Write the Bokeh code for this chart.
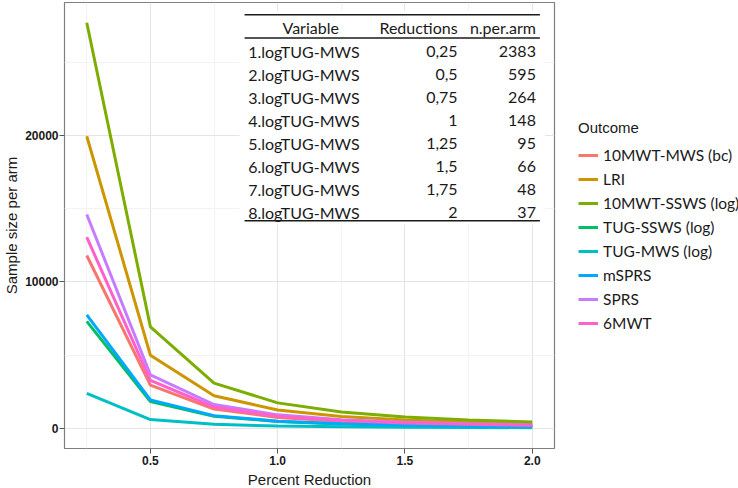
from bokeh.plotting import figure
from bokeh.models import (Range1d, FixedTicker, PrintfTickFormatter, Legend,
                          LegendItem, ColumnDataSource)
from bokeh.core.properties import value
from bokeh.embed import file_html
from bokeh.resources import INLINE

# ---------------- data ----------------
reductions = [0.25, 0.5, 0.75, 1.0, 1.25, 1.5, 1.75, 2.0]

outcomes = ["10MWT-MWS (bc)", "LRI", "10MWT-SSWS (log)", "TUG-SSWS (log)",
            "TUG-MWS (log)", "mSPRS", "SPRS", "6MWT"]
colors = ["#F8766D", "#CD9600", "#7CAE00", "#00BE67",
          "#00BFC4", "#00A9FF", "#C77CFF", "#FF61CC"]

mwt_mws_bc   = [11800, 2950, 1311, 738, 472, 328, 241, 184]
lri          = [19950, 4988, 2217, 1247, 798, 554, 407, 312]
mwt_ssws_log = [27700, 6925, 3078, 1731, 1108, 769, 565, 433]
tug_ssws_log = [7300, 1825, 811, 456, 292, 203, 149, 114]
tug_mws_log  = [2383, 595, 264, 148, 95, 66, 48, 37]
msprs        = [7750, 1938, 861, 484, 310, 215, 158, 121]
sprs         = [14600, 3650, 1622, 913, 584, 406, 298, 228]
mwt6         = [13050, 3263, 1450, 816, 522, 363, 266, 204]

series = [mwt_mws_bc, lri, mwt_ssws_log, tug_ssws_log,
          tug_mws_log, msprs, sprs, mwt6]

x_ticks = [0.5, 1.0, 1.5, 2.0]
x_minor = [0.25, 0.75, 1.25, 1.75]
y_ticks = [0, 10000, 20000]
y_minor = [5000, 15000, 25000]

table_header = ["Variable", "Reductions", "n.per.arm"]
table_variable = ["1.logTUG-MWS", "2.logTUG-MWS", "3.logTUG-MWS", "4.logTUG-MWS",
                  "5.logTUG-MWS", "6.logTUG-MWS", "7.logTUG-MWS", "8.logTUG-MWS"]
table_reductions = ["0,25", "0,5", "0,75", "1", "1,25", "1,5", "1,75", "2"]
table_n = ["2383", "595", "264", "148", "95", "66", "48", "37"]

# ---------------- figure ----------------
FRAME_W, FRAME_H = 490, 446
p = figure(frame_width=FRAME_W, frame_height=FRAME_H,
           x_range=Range1d(0.1625, 2.0875), y_range=Range1d(-1385, 29085),
           output_backend="svg", toolbar_location=None,
           min_border_top=2, min_border_bottom=0, min_border_left=0,
           min_border_right=0)
p.background_fill_color = "white"
p.border_fill_color = "white"
p.outline_line_color = "#7f7f7f"
p.outline_line_width = 1.2

TICK_FONT = "Liberation Sans"
TXT_FONT = "Lato"

p.xaxis.ticker = FixedTicker(ticks=x_ticks, minor_ticks=x_minor)
p.yaxis.ticker = FixedTicker(ticks=y_ticks, minor_ticks=y_minor)
p.xaxis.formatter = PrintfTickFormatter(format="%.1f")
p.yaxis.formatter = PrintfTickFormatter(format="%d")
for ax in (p.xaxis, p.yaxis):
    ax.axis_line_color = None
    ax.major_tick_line_color = "#555555"
    ax.major_tick_in = 0
    ax.major_tick_out = 5
    ax.minor_tick_line_color = None
    ax.major_label_text_font = TICK_FONT
    ax.major_label_text_font_style = "bold"
    ax.major_label_text_font_size = "12px"
    ax.major_label_text_color = "#1a1a1a"
    ax.axis_label_text_font = TICK_FONT
    ax.axis_label_text_font_style = "normal"
    ax.axis_label_text_font_size = "15px"
    ax.axis_label_text_color = "#1a1a1a"
p.xaxis.major_label_standoff = 2
p.xaxis.axis_label_standoff = 3
p.yaxis.major_label_standoff = 1
p.yaxis.axis_label_standoff = 2
p.xaxis.axis_label = "Percent Reduction"
p.yaxis.axis_label = "Sample size per arm"

for g in (p.xgrid, p.ygrid):
    g.grid_line_color = "#e4e4e4"
    g.grid_line_width = 1
    g.minor_grid_line_color = "#f3f3f3"
    g.minor_grid_line_width = 1

# ---------------- table helpers (reference pixel -> data) ----------------
def xpx(px):
    return 0.25 + (px - 84.3) / 256.0

def ypx(py):
    return (429.3 - py) / 0.01463

n_rows = len(table_variable)
row0_px, row_step_px = 52.3, 23.0
row_y = [ypx(row0_px + i * row_step_px) for i in range(n_rows)]
header_y = ypx(29.0)
top_rule = ypx(16.0)
head_rule = ypx(39.3)
bottom_rule = ypx(222.0)
t_left, t_right = xpx(243), xpx(540)

# white table background
p.quad(left=[xpx(238)], right=[xpx(545)], top=[ypx(12)], bottom=[ypx(226)],
       fill_color="white", line_color=None)

# ---------------- lines ----------------
renderers = []
for name, vals, col in zip(outcomes, series, colors):
    r = p.line(reductions, vals, line_color=col, line_width=3)
    renderers.append(r)

# ---------------- table contents ----------------
p.segment(x0=[t_left] * 3, x1=[t_right] * 3,
          y0=[top_rule, head_rule, bottom_rule], y1=[top_rule, head_rule, bottom_rule],
          line_color="#1a1a1a", line_width=1.6)

col_var_x = xpx(246.7)
col_var_head_x = xpx(309.5)
col_red_x = xpx(457.3)
col_n_x = xpx(536.0)

txt_kw = dict(text_font=value(TXT_FONT), text_font_size="16px",
              text_color="#1a1a1a", text_baseline="middle")

p.text(x=[col_var_head_x], y=[header_y], text=[table_header[0]], text_align="center", **txt_kw)
p.text(x=[col_red_x, col_n_x], y=[header_y, header_y], text=table_header[1:],
       text_align="right", **txt_kw)

src = ColumnDataSource(dict(y=row_y, var=table_variable, red=table_reductions, n=table_n,
                            xv=[col_var_x] * n_rows, xr=[col_red_x] * n_rows,
                            xn=[col_n_x] * n_rows))
p.text(x="xv", y="y", text="var", source=src, text_align="left", **txt_kw)
p.text(x="xr", y="y", text="red", source=src, text_align="right", **txt_kw)
p.text(x="xn", y="y", text="n", source=src, text_align="right", **txt_kw)

# ---------------- legend (right panel) ----------------
LEG_MARGIN = 12
legend = Legend(items=[LegendItem(label=n, renderers=[r]) for n, r in zip(outcomes, renderers)],
                title="Outcome", location=(2 * LEG_MARGIN, 115),
                title_text_font=TICK_FONT, title_text_font_size="15px",
                title_text_font_style="normal", title_text_color="#1a1a1a",
                title_standoff=9,
                label_text_font=TXT_FONT, label_text_font_size="15.5px",
                label_text_color="#1a1a1a",
                glyph_width=20, glyph_height=20, label_height=20, spacing=4,
                label_standoff=5, padding=0, margin=LEG_MARGIN,
                border_line_color=None, background_fill_alpha=0)
p.add_layout(legend, "right")

open("out.html", "w").write(file_html(p, INLINE))
